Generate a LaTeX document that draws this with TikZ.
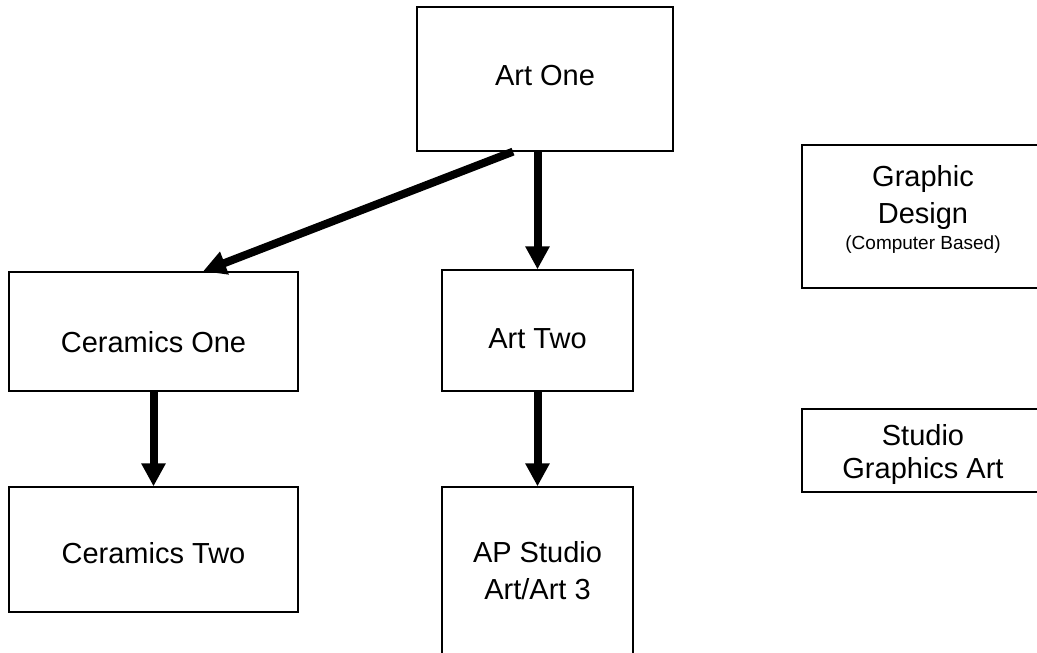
\documentclass[tikz,border=0pt]{standalone}
\usepackage{fontspec}
\setmainfont{Liberation Sans}
\usetikzlibrary{arrows.meta,positioning}
\tikzset{
	box/.style={draw,rectangle,align=center,line width=1.3pt,inner sep=0pt,font=\fontsize{29}{37}\selectfont},
	link/.style={-{Triangle[length=23pt,width=23pt]},line width=8pt}
}

\begin{document}
\begin{tikzpicture}[x=1pt,y=-1pt]
			\useasboundingbox (0,0) rectangle (1037,653);
			\node[box,minimum width=256pt,minimum height=144pt,text height=18pt,text depth=6pt] (artone) at (545,79) {Art One};
			\node[box,minimum width=289pt,minimum height=119pt,text height=41pt,text depth=0pt] (cerone) at (153.5,331.5) {Ceramics One};
			\node[box,minimum width=191pt,minimum height=121pt,text height=35pt,text depth=0pt] (arttwo) at (537.5,330.5) {Art Two};
			\node[box,minimum width=289pt,minimum height=125pt,text height=27pt,text depth=0pt] (certwo) at (153.5,549.5) {Ceramics Two};
			\node[box,minimum width=191pt,minimum height=200pt] (apart) at (537.5,587) {AP Studio\\Art/Art 3\rule[-34pt]{0pt}{1pt}};
			\node[box,minimum width=242pt,minimum height=143pt] (graphic) at (923,216.5) {Graphic\\Design\\[-11pt]{\fontsize{19}{23}\selectfont (Computer Based)\rule[-18pt]{0pt}{1pt}}};
			\node[box,minimum width=242pt,minimum height=83pt] (studio) at (923,450.5) {\rule{0pt}{30pt}Studio\\[-4pt]Graphics Art};
			
			\draw[link] ([xshift=-32pt]artone.south) -- ([xshift=49.5pt]cerone.north);
			\draw[link] (arttwo.north |- artone.south) -- (arttwo.north);
			\draw[link] (cerone.south) -- (certwo.north);
			\draw[link] (arttwo.south) -- (apart.north);
		\end{tikzpicture}
\end{document}
